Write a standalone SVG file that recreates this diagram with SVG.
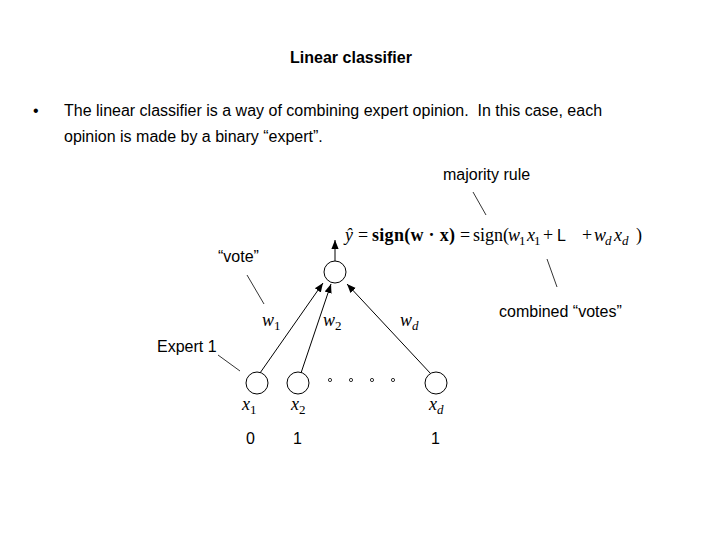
<svg xmlns="http://www.w3.org/2000/svg" width="720" height="540" viewBox="0 0 720 540">
<defs>
<style>
.s{font-family:"Liberation Sans",Arial,sans-serif;font-size:16px;fill:#000}
.t{font-family:"Liberation Serif","Times New Roman",serif;font-size:18px;fill:#000}
.i{font-style:italic}
.sub{font-size:13px}
.node{fill:#fff;stroke:#000;stroke-width:1}
.edge{stroke:#000;stroke-width:1;fill:none}
.lead{stroke:#000;stroke-width:0.8;fill:none}
.dot{fill:#fff;stroke:#000;stroke-width:0.8}
</style>
<marker id="ah" viewBox="0 0 10 10" refX="10" refY="5" markerWidth="9" markerHeight="9" markerUnits="userSpaceOnUse" orient="auto">
<path d="M0,1 L10,5 L0,9 Z" fill="#000"/>
</marker>
</defs>
<rect width="720" height="540" fill="#fff"/>
<text class="s" x="351" y="63" text-anchor="middle" font-weight="bold">Linear classifier</text>
<text class="s" x="33" y="116">•</text>
<text class="s" x="64" y="116" xml:space="preserve">The linear classifier is a way of combining expert opinion.  In this case, each</text>
<text class="s" x="64" y="142">opinion is made by a binary “expert”.</text>

<g id="equation">
<text class="t i" x="345" y="241">ŷ</text>
<text class="t" x="358" y="241">=</text>
<text class="t" x="372" y="241" font-weight="bold" textLength="83" lengthAdjust="spacing">sign(w · x)</text>
<text class="t" x="460" y="241">=</text>
<text class="t" x="473" y="241">sign(</text>
<text class="t i" x="508" y="241">w</text>
<text class="t sub" x="519" y="245">1</text>
<text class="t i" x="527" y="241">x</text>
<text class="t sub" x="534" y="245">1</text>
<text class="t" x="543" y="241">+</text>
<text class="s" x="557" y="241" font-size="17">L</text>
<text class="t" x="582" y="241">+</text>
<text class="t i" x="594" y="241">w</text>
<text class="t sub i" x="605" y="245">d</text>
<text class="t i" x="614" y="241">x</text>
<text class="t sub i" x="622" y="245">d</text>
<text class="t" x="636" y="241">)</text>
</g>

<g id="connectors">
<line class="edge" x1="335" y1="261" x2="335" y2="240" marker-end="url(#ah)"/>
<line class="edge" x1="260" y1="373" x2="323" y2="283" marker-end="url(#ah)"/>
<line class="edge" x1="301" y1="373" x2="331" y2="284" marker-end="url(#ah)"/>
<line class="edge" x1="431" y1="374" x2="347" y2="284" marker-end="url(#ah)"/>
<line class="lead" x1="473" y1="192" x2="486" y2="215"/>
<line class="lead" x1="547" y1="259" x2="557" y2="287"/>
<line class="lead" x1="247" y1="275" x2="264" y2="304"/>
<line class="lead" x1="218" y1="355" x2="240" y2="371"/>
</g>

<g id="out"><circle class="node" cx="335" cy="272" r="11"/></g>
<g id="x1node"><circle class="node" cx="257" cy="383" r="11"/></g>
<g id="x2node"><circle class="node" cx="298" cy="383" r="11"/></g>
<g id="xdnode"><circle class="node" cx="436" cy="383" r="11"/></g>
<g id="dots">
<circle class="dot" cx="330" cy="380" r="1.6"/>
<circle class="dot" cx="351" cy="380" r="1.6"/>
<circle class="dot" cx="372" cy="380" r="1.6"/>
<circle class="dot" cx="393" cy="380" r="1.6"/>
</g>

<g id="weights">
<text class="t" x="262" y="326"><tspan class="i">w</tspan><tspan class="sub" dy="4">1</tspan></text>
<text class="t" x="323" y="326"><tspan class="i">w</tspan><tspan class="sub" dy="4">2</tspan></text>
<text class="t" x="400" y="326"><tspan class="i">w</tspan><tspan class="sub i" dy="4">d</tspan></text>
</g>
<g id="inputs">
<text class="t" x="242" y="410"><tspan class="i">x</tspan><tspan class="sub" dy="4">1</tspan></text>
<text class="t" x="291" y="410"><tspan class="i">x</tspan><tspan class="sub" dy="4">2</tspan></text>
<text class="t" x="429" y="410"><tspan class="i">x</tspan><tspan class="sub i" dy="4">d</tspan></text>
</g>

<g id="labels">
<text class="s" x="443" y="180">majority rule</text>
<text class="s" x="218" y="262">“vote”</text>
<text class="s" x="499" y="317">combined “votes”</text>
<text class="s" x="157" y="352">Expert 1</text>
<text class="s" x="246" y="444">0</text>
<text class="s" x="293" y="444">1</text>
<text class="s" x="431" y="444">1</text>
</g>
</svg>
